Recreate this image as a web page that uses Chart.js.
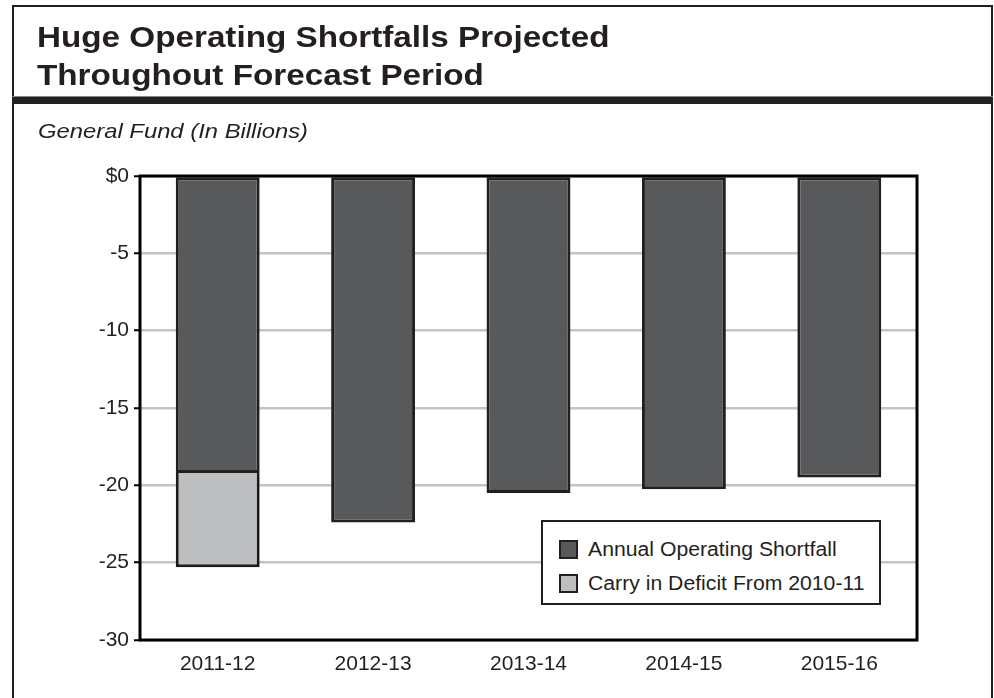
<!DOCTYPE html>
<html>
<head>
<meta charset="utf-8">
<script src="https://cdn.jsdelivr.net/npm/chart.js@4"></script>
<style>
  html, body { margin: 0; padding: 0; background: #fff; }
  #wrap { position: relative; width: 994px; height: 698px; overflow: hidden; font-family: "Liberation Sans", Arial, Helvetica, sans-serif; color: #231f20; }
  #chart { position: absolute; left: 0; top: 0; }
  .frameL { position: absolute; left: 12px; top: 5px; width: 2px; height: 700px; background: #231f20; }
  .frameT { position: absolute; left: 12px; top: 5px; width: 981px; height: 2px; background: #231f20; }
  .frameR { position: absolute; left: 991px; top: 5px; width: 2px; height: 700px; background: #231f20; }
  .thin { position: absolute; left: 12px; top: 96px; width: 981px; height: 1px; background: #888; }
  .thick { position: absolute; left: 12px; top: 97px; width: 981px; height: 7px; background: #231f20; }
  #title { position: absolute; left: 37px; top: 18px; font-weight: bold; font-size: 29px; line-height: 38px; white-space: nowrap; transform: scaleX(1.146); transform-origin: 0 0; }
  #subtitle { position: absolute; left: 38px; top: 119px; font-style: italic; font-size: 21px; line-height: 24px; white-space: nowrap; transform: scaleX(1.134); transform-origin: 0 0; }
  #legend { position: absolute; left: 541px; top: 520px; width: 336px; height: 81px; border: 2px solid #231f20; background: #fff; }
  .item { position: absolute; left: 16px; height: 24px; font-size: 20px; line-height: 24px; white-space: nowrap; }
  .sw { position: absolute; left: 0; top: 3px; width: 15px; height: 15px; border: 2px solid #231f20; }
  .lab { position: absolute; left: 29px; top: 0; transform: scaleX(1.06); transform-origin: 0 0; }
</style>
</head>
<body>
<div id="wrap">
  <canvas id="chart" width="994" height="698"></canvas>
  <div class="frameL"></div><div class="frameT"></div><div class="frameR"></div>
  <div class="thin"></div><div class="thick"></div>
  <div id="title">Huge Operating Shortfalls Projected<br>Throughout Forecast Period</div>
  <div id="subtitle">General Fund (In Billions)</div>
  <div id="legend"></div>
</div>
<script>
const categories = ['2011-12', '2012-13', '2013-14', '2014-15', '2015-16'];
const seriesNames = ['Annual Operating Shortfall', 'Carry in Deficit From 2010-11'];
const annualShortfall = [-19.2, -22.4, -20.5, -20.25, -19.5];
const carryInDeficit = [-6.1, null, null, null, null];
const yTickValues = [0, -5, -10, -15, -20, -25, -30];
const yTickLabels = ['$0', '-5', '-10', '-15', '-20', '-25', '-30'];
const seriesColors = ['#58595b', '#bcbec0'];

const frame = {
  id: 'frame',
  afterDatasetsDraw(chart) {
    const a = chart.chartArea, ctx = chart.ctx;
    ctx.save();
    ctx.strokeStyle = '#000';
    ctx.lineWidth = 3;
    ctx.strokeRect(a.left, a.top, a.right - a.left, a.bottom - a.top);
    ctx.restore();
  }
};

const chart = new Chart(document.getElementById('chart'), {
  type: 'bar',
  data: {
    labels: categories,
    datasets: [
      { label: seriesNames[0], data: annualShortfall, backgroundColor: seriesColors[0], borderColor: '#231f20', borderWidth: 3, borderSkipped: false },
      { label: seriesNames[1], data: carryInDeficit, backgroundColor: seriesColors[1], borderColor: '#1a1a1a', borderWidth: 3, borderSkipped: 'start' }
    ]
  },
  options: {
    responsive: false,
    animation: false,
    devicePixelRatio: 1,
    layout: { padding: { left: 80, top: 176, right: 77, bottom: 18 } },
    datasets: { bar: { barPercentage: 0.54, categoryPercentage: 1 } },
    plugins: { legend: { display: false }, tooltip: { enabled: false }, title: { display: false } },
    scales: {
      x: {
        stacked: true,
        grid: { display: false, drawTicks: false },
        border: { display: false },
        ticks: { color: '#231f20', font: { family: 'Liberation Sans', size: 21 }, padding: 12, maxRotation: 0 },
        afterFit(s) { s.height = 40; }
      },
      y: {
        stacked: true,
        min: -30, max: 0,
        border: { display: false },
        grid: { color: '#c4c4c4', lineWidth: 2.5, tickColor: '#000', tickLength: 6, tickWidth: 2 },
        afterBuildTicks(s) { s.ticks = yTickValues.map(v => ({ value: v })); },
        ticks: {
          color: '#231f20', font: { family: 'Liberation Sans', size: 21 }, padding: 5,
          callback(v) { const i = yTickValues.indexOf(v); return i >= 0 ? yTickLabels[i] : ''; }
        },
        afterFit(s) { s.width = 60; }
      }
    }
  },
  plugins: [frame]
});

const leg = document.getElementById('legend');
seriesNames.forEach((n, i) => {
  const it = document.createElement('div');
  it.className = 'item';
  it.style.top = (15 + i * 34) + 'px';
  const sw = document.createElement('div');
  sw.className = 'sw';
  sw.style.background = seriesColors[i];
  const lb = document.createElement('div');
  lb.className = 'lab';
  lb.textContent = n;
  it.appendChild(sw); it.appendChild(lb);
  leg.appendChild(it);
});
</script>
</body>
</html>
